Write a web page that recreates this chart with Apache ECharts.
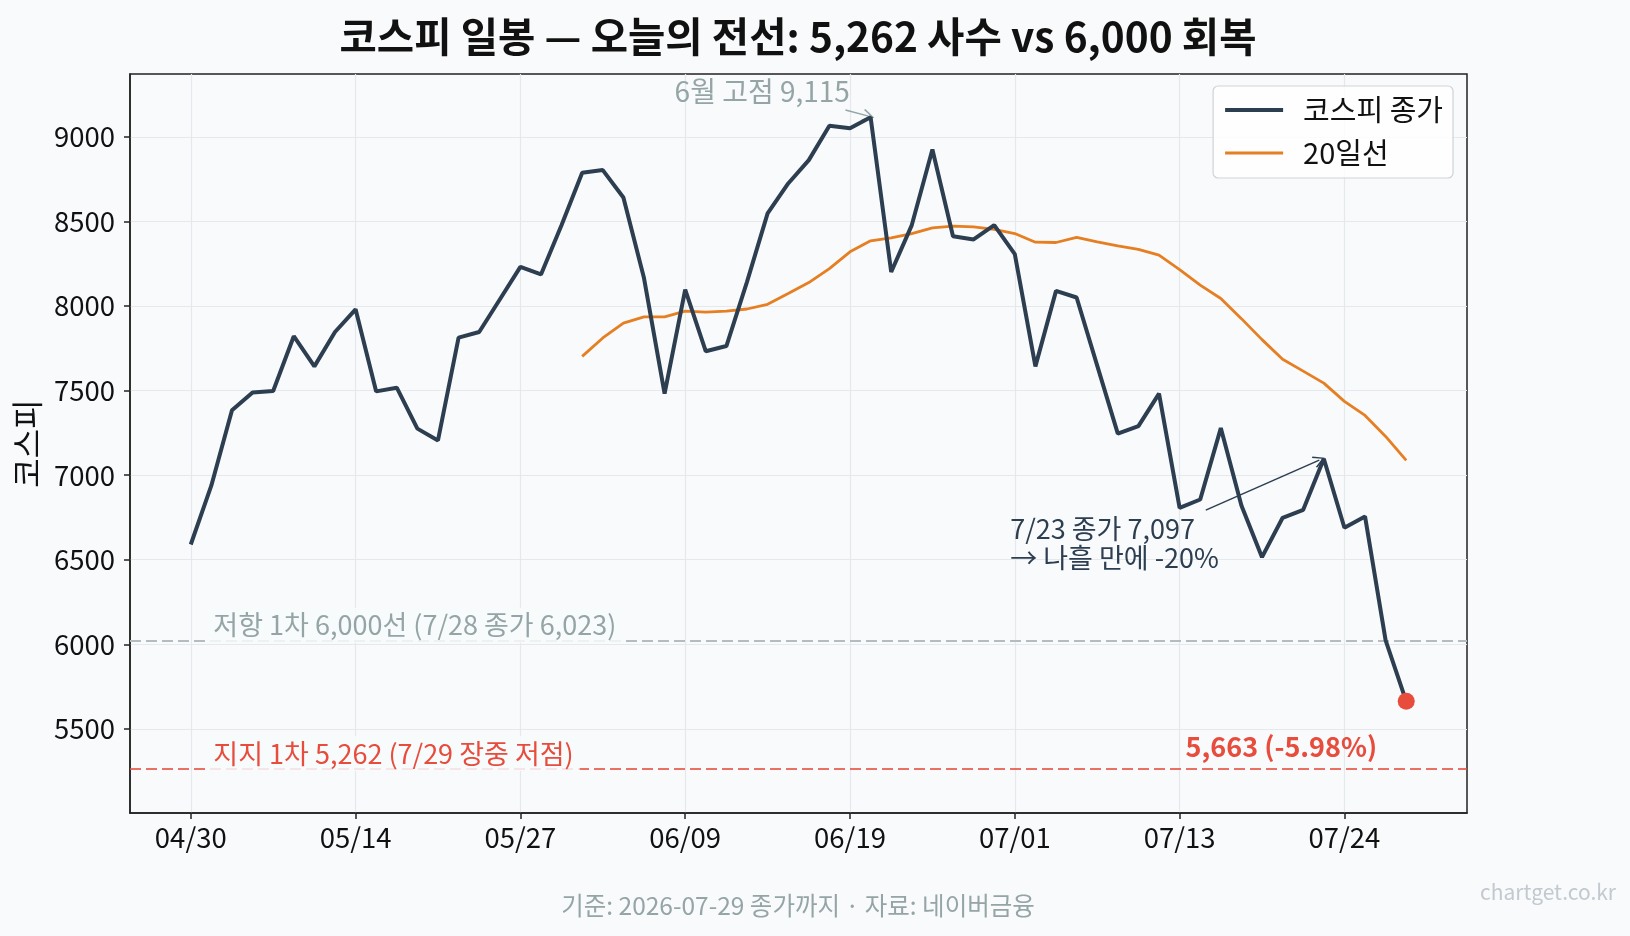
<!DOCTYPE html>
<html><head><meta charset="utf-8">
<script src="https://cdn.jsdelivr.net/npm/echarts@6/dist/echarts.min.js"></script>
<style>html,body{margin:0;padding:0;background:#f8fafc}#c{width:1630px;height:936px}</style>
</head><body><div id="c"></div><script>
// ---- data ----
const dates = ['04/30','05/04','05/06','05/07','05/08','05/11','05/12','05/13','05/14','05/15',
  '05/18','05/19','05/20','05/21','05/22','05/26','05/27','05/28','05/29','06/01',
  '06/02','06/04','06/05','06/08','06/09','06/10','06/11','06/12','06/15','06/16',
  '06/17','06/18','06/19','06/22','06/23','06/24','06/25','06/26','06/29','06/30',
  '07/01','07/02','07/03','07/06','07/07','07/08','07/09','07/10','07/13','07/14',
  '07/15','07/16','07/20','07/21','07/22','07/23','07/24','07/27','07/28','07/29'];
const closeVals = [6590,6939,7383,7489,7497,7821,7643,7846,7980,7495,
  7517,7275,7205,7813,7846,8038,8231,8186,8478,8787,
  8803,8641,8165,7482,8097,7732,7763,8142,8547,8724,
  8862,9065,9050,9115,8201,8478,8925,8412,8393,8478,
  8306,7643,8089,8050,7647,7245,7290,7482,6807,6856,
  7278,6821,6515,6748,6795,7097,6689,6756,6023,5663];
const ma20Vals = [null,null,null,null,null,null,null,null,null,null,
  null,null,null,null,null,null,null,null,null,7702,
  7811,7899,7935,7935,7969,7963,7969,7982,8010,8073,
  8138,8221,8320,8385,8402,8428,8462,8472,8467,8452,
  8428,8377,8375,8405,8379,8355,8334,8300,8215,8123,
  8044,7925,7801,7685,7615,7544,7436,7353,7229,7087];
const xTickIdx = [0,8,16,24,32,40,48,56];
const yTicks = [5500,6000,6500,7000,7500,8000,8500,9000];
const resistance = 6023;
const support = 5262;
const lastIdx = 59;

const seriesNames = ['코스피 종가','20일선'];
const titleText = '코스피 일봉 — 오늘의 전선: 5,262 사수 vs 6,000 회복';
const footerText = '기준: 2026-07-29 종가까지 · 자료: 네이버금융';
const watermark = 'chartget.co.kr';
const peakText = '6월 고점 9,115';
const noteText = '7/23 종가 7,097\n→ 나흘 만에 -20%';
const resText = '저항 1차 6,000선 (7/28 종가 6,023)';
const supText = '지지 1차 5,262 (7/29 장중 저점)';
const lastText = '5,663 (-5.98%)';

// ---- chart ----
const FONT = '"Noto Sans CJK KR", "Noto Sans", sans-serif';
const BG = '#f8fafc';
const chevron = 'path://M5,0 L10,9 L9,10 L5,2.4 L1,10 L0,9 Z';
const closeData = closeVals.map((v, i) => [i, v]);
const maData = ma20Vals.map((v, i) => [i, v]);

const chart = echarts.init(document.getElementById('c'), null, {renderer: 'canvas'});
const noteLabel = (text, color, extra) => Object.assign({
  show: true, formatter: text, color: color, fontSize: 27, fontFamily: FONT
}, extra || {});

chart.setOption({
  animation: false,
  backgroundColor: BG,
  textStyle: {fontFamily: FONT},
  title: [
    {text: titleText, left: 798, top: 12, textAlign: 'center', padding: 0,
     textStyle: {fontSize: 40.6, fontWeight: 'bold', color: '#111', lineHeight: 49, fontFamily: FONT}},
    {text: footerText, left: 798, top: 891, textAlign: 'center', padding: 0,
     textStyle: {fontSize: 24.5, fontWeight: 'normal', color: '#95a5a6', lineHeight: 30, fontFamily: FONT}},
    {text: watermark, right: 14, top: 879, padding: 0,
     textStyle: {fontSize: 21, fontWeight: 'normal', color: '#c3c9ce', lineHeight: 26, fontFamily: FONT}}
  ],
  grid: {left: 130, right: 163, top: 74, bottom: 123, show: true, borderColor: '#222', borderWidth: 1.5,
         backgroundColor: 'transparent', containLabel: false},
  legend: {
    right: 177, top: 86, orient: 'vertical', align: 'left',
    data: [
      {name: seriesNames[0], lineStyle: {width: 4, color: '#2c3e50'}},
      {name: seriesNames[1], lineStyle: {width: 3, color: '#e67e22'}}
    ],
    itemWidth: 58, itemHeight: 14, itemGap: 11,
    padding: [8, 10, 9, 10],
    backgroundColor: 'rgba(255,255,255,0.8)', borderColor: '#cfd3d6', borderWidth: 1.2, borderRadius: 5,
    itemStyle: {opacity: 0},
    textStyle: {fontSize: 29, color: '#111', fontFamily: FONT, lineHeight: 32, padding: [0, 0, 0, 15]}
  },
  xAxis: {
    type: 'value', min: -2.95, max: 61.95,
    axisLine: {show: true, onZero: false, lineStyle: {color: '#222', width: 1.5}},
    axisTick: {show: true, customValues: xTickIdx, length: 6, lineStyle: {color: '#222', width: 1.5}},
    axisLabel: {customValues: xTickIdx, formatter: v => dates[Math.round(v)] || '', fontSize: 27.5,
                color: '#111', margin: 11, fontFamily: FONT},
    splitLine: {show: true, lineStyle: {color: '#e6e9ec', width: 1.2}}
  },
  yAxis: {
    type: 'value', min: 5003, max: 9371,
    name: '코스피', nameLocation: 'middle', nameGap: 84, nameRotate: 90,
    nameTextStyle: {fontSize: 32, color: '#111', fontFamily: FONT},
    axisLine: {show: true, onZero: false, lineStyle: {color: '#222', width: 1.5}},
    axisTick: {show: true, customValues: yTicks, length: 6, lineStyle: {color: '#222', width: 1.5}},
    axisLabel: {customValues: yTicks, formatter: v => String(Math.round(v)), fontSize: 27.5,
                color: '#111', margin: 15, fontFamily: FONT},
    splitLine: {show: true, lineStyle: {color: '#e6e9ec', width: 1.2}}
  },
  series: [
    {
      name: seriesNames[0], type: 'line', data: closeData, symbol: 'none', z: 5,
      lineStyle: {color: '#2c3e50', width: 4}, itemStyle: {color: '#2c3e50'},
      markLine: {
        silent: true, symbol: ['none', 'none'], label: {show: false},
        data: [
          {yAxis: resistance, lineStyle: {color: '#b3bdbf', width: 2, type: [11, 5]}},
          {yAxis: support, lineStyle: {color: 'rgba(231,76,60,0.8)', width: 2, type: [11, 5]}},
          [{coord: [31.78, 9158], symbol: 'none', lineStyle: {color: '#95a5a6', width: 1.5, type: 'solid'}},
           {coord: [32.9, 9122], symbol: chevron, symbolSize: 12}],
          [{coord: [49.27, 6793], symbol: 'none', lineStyle: {color: '#2c3e50', width: 1.5, type: 'solid'}},
           {coord: [54.78, 7089], symbol: chevron, symbolSize: 12}]
        ]
      },
      markPoint: {
        silent: true, symbol: 'circle', symbolSize: 1, itemStyle: {color: 'rgba(0,0,0,0)'},
        data: [
          {coord: [27.74, 9270], label: noteLabel(peakText, '#95a5a6', {position: 'inside', fontSize: 28})},
          {coord: [39.75, 6598], label: noteLabel(noteText, '#2c3e50', {position: 'right', distance: 0, align: 'left', lineHeight: 29})},
          {coord: [0.78, 6113], label: noteLabel(resText, '#95a5a6', {position: 'right', distance: 0, align: 'left',
             backgroundColor: 'rgba(248,250,252,0.85)', padding: [4, 6]})},
          {coord: [0.78, 5355], label: noteLabel(supText, '#e74c3c', {position: 'right', distance: 0, align: 'left',
             backgroundColor: 'rgba(248,250,252,0.85)', padding: [4, 6]})},
          {coord: [52.94, 5395], label: noteLabel(lastText, '#e74c3c', {position: 'inside', fontWeight: 'bold'})}
        ]
      }
    },
    {
      name: seriesNames[1], type: 'line', data: maData, symbol: 'none', z: 4, connectNulls: false,
      lineStyle: {color: '#e67e22', width: 2.8}, itemStyle: {color: '#e67e22'}
    },
    {
      name: 'last', type: 'scatter', data: [[lastIdx, closeVals[lastIdx]]], symbolSize: 17, z: 6,
      itemStyle: {color: '#e74c3c', opacity: 1}
    }
  ]
});
</script></body></html>
